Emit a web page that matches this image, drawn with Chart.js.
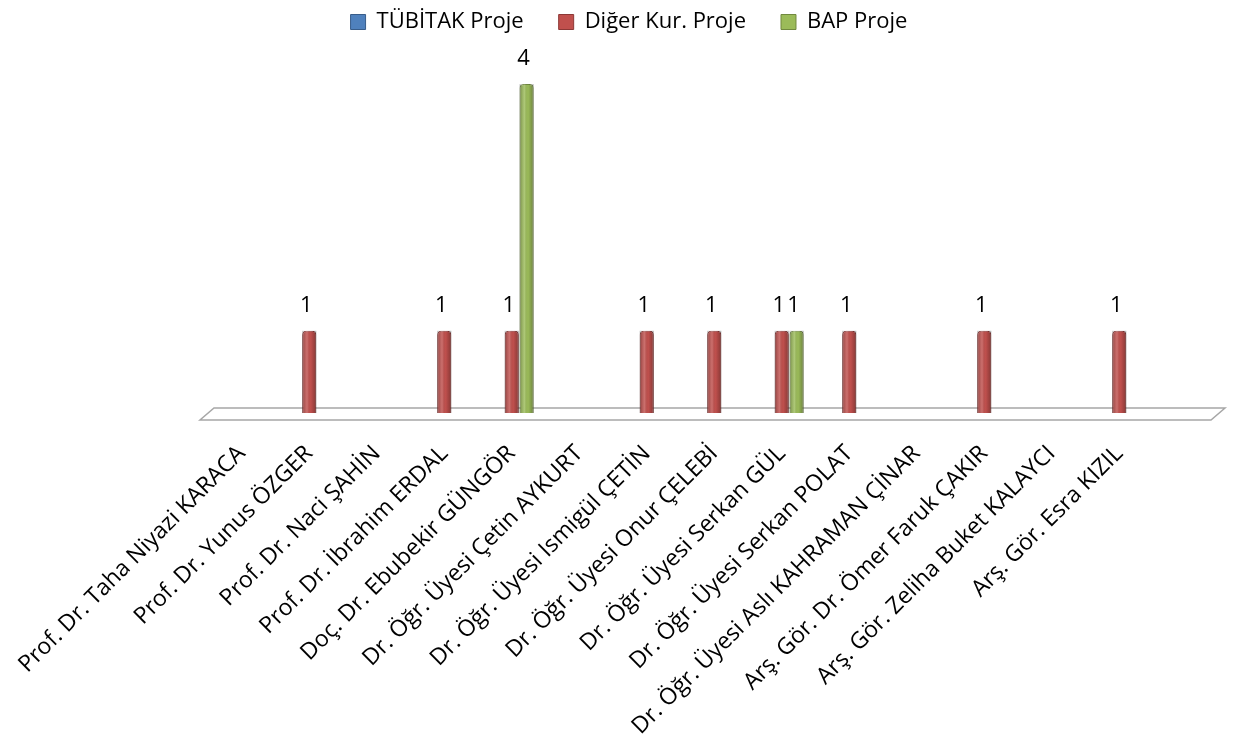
<!DOCTYPE html>
<html lang="tr">
<head>
<meta charset="UTF-8">
<title>Proje Sayıları</title>
<script src="https://cdn.jsdelivr.net/npm/chart.js"></script>
<style>
    body { margin: 0; background: #fff; }
    #wrap { width: 1236px; height: 745px; }
</style>
</head>
<body>
<div id="wrap"><canvas id="chart"></canvas></div>
<script>
// veriler
const people = [
    'Prof. Dr. Taha Niyazi KARACA', 'Prof. Dr. Yunus ÖZGER', 'Prof. Dr. Naci ŞAHİN',
    'Prof. Dr. İbrahim ERDAL', 'Doç. Dr. Ebubekir GÜNGÖR', 'Dr. Öğr. Üyesi Çetin AYKURT',
    'Dr. Öğr. Üyesi Ismigül ÇETİN', 'Dr. Öğr. Üyesi Onur ÇELEBİ', 'Dr. Öğr. Üyesi Serkan GÜL',
    'Dr. Öğr. Üyesi Serkan POLAT', 'Dr. Öğr. Üyesi Aslı KAHRAMAN ÇİNAR', 'Arş. Gör. Dr. Ömer Faruk ÇAKIR',
    'Arş. Gör. Zeliha Buket KALAYCI', 'Arş. Gör. Esra KIZIL'
];
const tubitak = [0, 0, 0, 0, 0, 0, 0, 0, 0, 0, 0, 0, 0, 0];
const digerKur = [0, 1, 0, 1, 1, 0, 1, 1, 1, 1, 0, 1, 0, 1];
const bap = [0, 0, 0, 0, 4, 0, 0, 0, 1, 0, 0, 0, 0, 0];

const FONT = '"Open Sans", sans-serif';

// zemin (3B görünümlü taban)
const floorPlugin = {
    id: 'floor',
    beforeDatasetsDraw(chart) {
        const { ctx, chartArea } = chart;
        const y = chart.scales.y.getPixelForValue(0);
        ctx.save();
        ctx.beginPath();
        ctx.moveTo(chartArea.left - 8, y + 7);
        ctx.lineTo(chartArea.right + 58, y + 7);
        ctx.lineTo(chartArea.right + 72, y - 5);
        ctx.lineTo(chartArea.left + 6, y - 5);
        ctx.closePath();
        ctx.fillStyle = '#ffffff';
        ctx.fill();
        ctx.strokeStyle = '#a6a6a6';
        ctx.lineWidth = 1.5;
        ctx.stroke();
        ctx.restore();
    }
};

// silindir gölgesi ve değer etiketleri
const labelPlugin = {
    id: 'valueLabels',
    afterDatasetsDraw(chart) {
        const { ctx } = chart;
        ctx.save();
        chart.data.datasets.forEach((ds, i) => {
            chart.getDatasetMeta(i).data.forEach((bar, j) => {
                if (!(ds.data[j] > 0)) return;
                const l = bar.x - bar.width / 2, w = bar.width;
                const g = ctx.createLinearGradient(l, 0, l + w, 0);
                g.addColorStop(0, 'rgba(0,0,0,0.25)');
                g.addColorStop(0.35, 'rgba(255,255,255,0.18)');
                g.addColorStop(0.6, 'rgba(0,0,0,0)');
                g.addColorStop(1, 'rgba(0,0,0,0.3)');
                ctx.fillStyle = g;
                ctx.fillRect(l, bar.y, w, bar.base - bar.y);
            });
        });
        ctx.font = '22px ' + FONT;
        ctx.fillStyle = '#000';
        ctx.textAlign = 'center';
        ctx.textBaseline = 'bottom';
        chart.data.datasets.forEach((ds, i) => {
            chart.getDatasetMeta(i).data.forEach((bar, j) => {
                if (ds.data[j] > 0) ctx.fillText(ds.data[j], bar.x - 3, bar.y - 14);
            });
        });
        ctx.restore();
    }
};

new Chart(document.getElementById('chart'), {
    type: 'bar',
    data: {
        labels: people,
        datasets: [
            { label: 'TÜBİTAK Proje', data: tubitak, backgroundColor: '#4F81BD', borderColor: '#385D8A', borderWidth: 1 },
            { label: 'Diğer Kur. Proje', data: digerKur, backgroundColor: '#C0504D', borderColor: '#8C3836', borderWidth: 1 },
            { label: 'BAP Proje', data: bap, backgroundColor: '#9BBB59', borderColor: '#71893F', borderWidth: 1 }
        ]
    },
    options: {
        responsive: true,
        maintainAspectRatio: false,
        animation: false,
        categoryPercentage: 0.66,
        barPercentage: 0.95,
        borderRadius: { topLeft: 4, topRight: 4 },
        borderSkipped: 'bottom',
        layout: { padding: { top: -24, right: 0, left: 22, bottom: 0 } },
        plugins: {
            legend: {
                position: 'top',
                maxHeight: 76,
                labels: { font: { family: FONT, size: 22 }, color: '#000', boxWidth: 15, boxHeight: 15, padding: 35 }
            },
            tooltip: { enabled: false }
        },
        scales: {
            x: {
                grid: { display: false },
                border: { display: false },
                ticks: { minRotation: 45, maxRotation: 45, padding: 19, color: '#000', font: { family: FONT, size: 23 } },
                afterFit(scale) {
                    scale.height = 332;
                    scale.paddingLeft = 208;
                    scale.paddingRight = 83;
                }
            },
            y: {
                display: false,
                min: 0,
                max: 4.5,
                grid: { display: false }
            }
        }
    },
    plugins: [floorPlugin, labelPlugin]
});
</script>
</body>
</html>
